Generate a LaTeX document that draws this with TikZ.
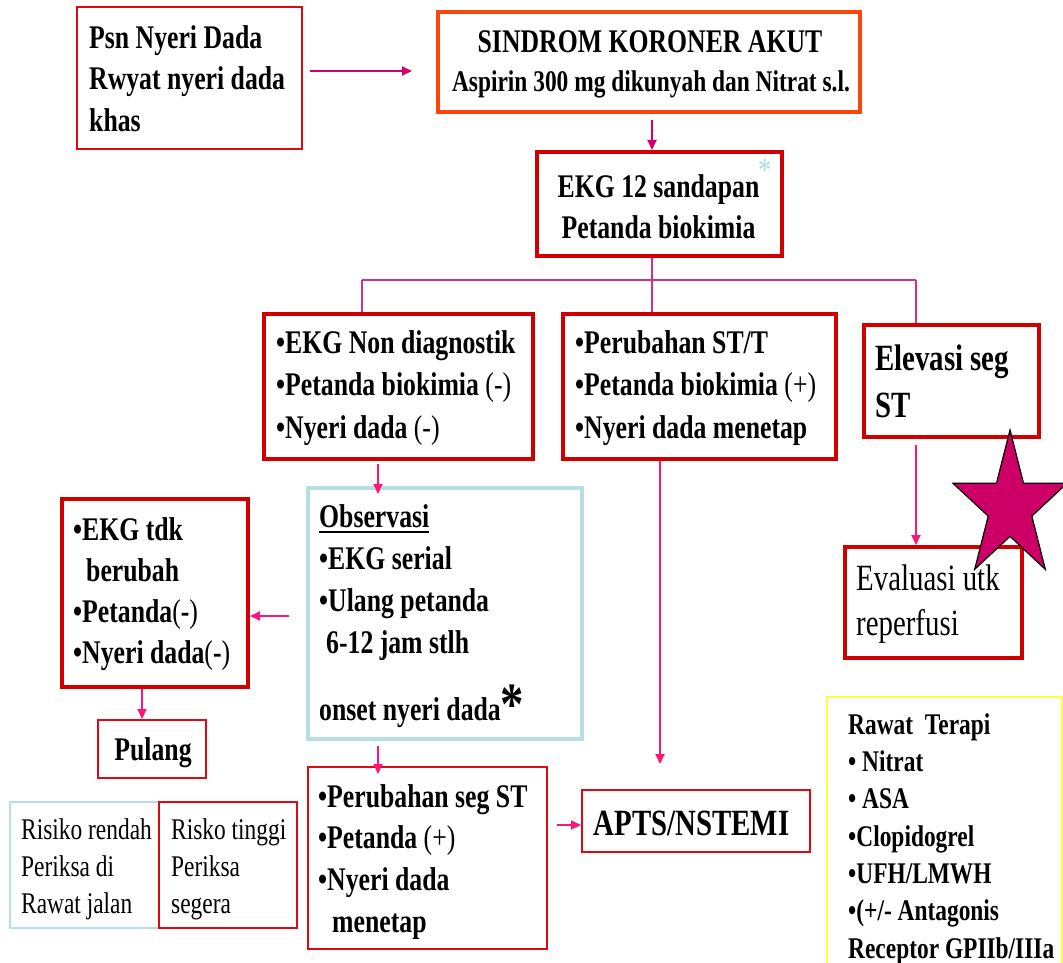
\documentclass[tikz,border=0pt]{standalone}
\usepackage{fontspec}
\setmainfont{Liberation Serif}[FakeStretch=0.78]
\usetikzlibrary{arrows.meta}
\definecolor{boxred}{RGB}{208,0,0}
\definecolor{thinred}{RGB}{220,10,20}
\definecolor{sindorange}{RGB}{255,70,10}
\definecolor{lblue}{RGB}{183,223,227}
\definecolor{ylw}{RGB}{255,255,60}
\definecolor{arrowpink}{RGB}{255,20,120}
\definecolor{magline}{RGB}{210,0,110}
\definecolor{branchc}{RGB}{204,51,136}
\definecolor{starfill}{RGB}{204,0,102}
\definecolor{astblue}{RGB}{170,220,225}
\newcommand{\setfs}[2]{\fontsize{#1}{#2}\selectfont}
\newlength{\ulwd}
\newcommand{\ulx}[1]{\settowidth{\ulwd}{#1}\rlap{\rule[-6pt]{\ulwd}{2.7pt}}#1}
\begin{document}
\begin{tikzpicture}[x=1pt,y=-1pt,
  thickred/.style={draw=boxred, line width=4pt, inner sep=0pt, fill=none},
  thinred/.style={draw=thinred, line width=2pt, inner sep=0pt},
  txt/.style={inner sep=0pt, anchor=north west, align=left},
  arr/.style={draw=arrowpink, line width=1.8pt, -{Triangle[length=10pt,width=9pt]}},
  arrm/.style={draw=magline, line width=1.8pt, -{Triangle[length=10pt,width=9pt]}},
  brl/.style={draw=branchc, line width=1.8pt},
]
\fill[white] (0,0) rectangle (1063,963);
\useasboundingbox (0,0) rectangle (1063,963);

% ---------- boxes ----------
\node[thinred, minimum width=225pt, minimum height=142pt] (psn) at (189.5,78) {};
\node[draw=sindorange, line width=4pt, inner sep=0pt, minimum width=422pt, minimum height=100pt] (sind) at (649,62) {};
\node[thickred, minimum width=245pt, minimum height=104pt] (ekg) at (659.5,204) {};
\node[thickred, minimum width=269pt, minimum height=145pt] (nd) at (398.5,386.5) {};
\node[thickred, minimum width=273pt, minimum height=145pt] (pst) at (699.5,386.5) {};
\node[thickred, minimum width=175pt, minimum height=112pt] (elev) at (951.5,381) {};
\node[thickred, minimum width=177pt, minimum height=111pt] (eval) at (933.5,602.5) {};
\node[draw=lblue, line width=4pt, inner sep=0pt, minimum width=274pt, minimum height=251pt] (obs) at (445,613.5) {};
\node[thickred, minimum width=186pt, minimum height=188pt] (tdk) at (155,593) {};
\node[thinred, minimum width=108pt, minimum height=58pt] (pul) at (152,749) {};
\node[draw=lblue, line width=2pt, inner sep=0pt, minimum width=149pt, minimum height=126pt] (rr) at (84.5,865) {};
\node[thinred, minimum width=138pt, minimum height=126pt] (rt) at (228,865) {};
\node[thinred, minimum width=239pt, minimum height=182pt] (seg) at (427.5,858) {};
\node[thinred, minimum width=228pt, minimum height=62pt] (apts) at (696,821) {};
\node[draw=ylw, line width=2pt, inner sep=0pt, minimum width=235pt, minimum height=278pt] (terapi) at (944.5,836) {};

% ---------- texts ----------
\node[txt, font=\bfseries\setfs{33}{41.5}] (psnt) at (89,19) {\strut Psn Nyeri Dada\\\strut Rwyat nyeri dada\\\strut khas};
\node[inner sep=0pt, anchor=base, font=\bfseries\setfs{33}{40}] (sindt1) at (650,53) {SINDROM KORONER AKUT};
\node[inner sep=0pt, anchor=base, font=\bfseries\setfs{30}{36}] (sindt2) at (651,92) {Aspirin 300 mg dikunyah dan Nitrat s.l.};
\node[inner sep=0pt, anchor=north, align=center, font=\bfseries\setfs{33}{41}] (ekgt) at (658.5,168.3) {\strut EKG 12 sandapan\\\strut Petanda biokimia};
\node[inner sep=0pt, anchor=base west, text=astblue, font=\setfs{34}{40}] (ekgast) at (758,182) {*};
\node[txt, font=\bfseries\setfs{33}{42.5}] (ndt) at (276,323.3) {\strut •EKG Non diagnostik\\\strut •Petanda biokimia {\mdseries (-)}\\\strut •Nyeri dada {\mdseries (-)}};
\node[txt, font=\bfseries\setfs{33}{42.5}] (pstt) at (575,323.3) {\strut •Perubahan ST/T\\\strut •Petanda biokimia {\mdseries (+)}\\\strut •Nyeri dada menetap};
\node[txt, font=\bfseries\setfs{37}{47}] (elevt) at (875,337.1) {\strut Elevasi seg\\\strut ST};
\node[txt, font=\setfs{37}{45}] (evalt) at (856,558.5) {\strut Evaluasi utk\\\strut reperfusi};
\node[txt, font=\bfseries\setfs{33}{42}] (obst) at (319,497.6) {\strut\ulx{Observasi}\\\strut •EKG serial\\\strut •Ulang petanda\\\strut\hspace*{7pt}6-12 jam stlh\\[18pt]\strut onset nyeri dada\raisebox{-4pt}{\setfs{60}{60}*}};
\node[txt, font=\bfseries\setfs{33}{41}] (tdkt) at (73,511.3) {\strut •EKG tdk\\\strut\hspace*{13pt}berubah\\\strut •Petanda{\mdseries (}-{\mdseries )}\\\strut •Nyeri dada{\mdseries (}-{\mdseries )}};
\node[inner sep=0pt, anchor=base, font=\bfseries\setfs{33}{40}] (pult) at (153,760) {Pulang};
\node[txt, font=\setfs{30}{37}] (rrt) at (21,813.1) {\strut Risiko rendah\\\strut Periksa di\\\strut Rawat jalan};
\node[txt, font=\setfs{30}{37}] (rtt) at (171,813.1) {\strut Risko tinggi\\\strut Periksa\\\strut segera};
\node[txt, font=\bfseries\setfs{33}{41.7}] (segt) at (318,777.8) {\strut •Perubahan seg ST\\\strut •Petanda {\mdseries (+)}\\\strut •Nyeri dada\\\strut\hspace*{14pt}menetap};
\node[inner sep=0pt, anchor=base, font=\bfseries\setfs{37}{44}] (aptst) at (691.5,835) {APTS/NSTEMI};
\node[txt, font=\bfseries\setfs{30}{37.3}] (terapit) at (848,708) {\strut Rawat\ \ Terapi\\\strut • Nitrat\\\strut • ASA\\\strut •Clopidogrel\\\strut •UFH/LMWH\\\strut •(+/- Antagonis\\\strut Receptor GPIIb/IIIa};

% ---------- connectors ----------
\draw[arrm, shorten <=7pt, shorten >=24pt] ([yshift=7pt]psn.east) -- ([yshift=7pt]psn.east -| sind.west);
\draw[arrm, shorten <=6pt] ([xshift=3pt]sind.south) -- ([xshift=3pt]sind.south |- ekg.north);

\coordinate (bM) at ([xshift=-7.5pt]ekg.south |- 0,280);
\coordinate (bL) at (362,280);
\coordinate (bR) at (916,280);
\draw[brl] ([xshift=-7.5pt]ekg.south) -- (bM);
\draw[brl] (bL) -- (bR);
\draw[brl] (bL) -- (bL |- nd.north);
\draw[brl] (bM) -- (bM |- pst.north);
\draw[brl] (bR) -- (bR |- elev.north);

\draw[arr, shorten <=3pt, shorten >=-8pt] ([xshift=-20.5pt]nd.south) -- ([xshift=-20.5pt]nd.south |- obs.north);
\draw[arr, shorten <=17pt] ([yshift=-2.5pt]obs.west) -- ([yshift=-2.5pt]obs.west -| tdk.east);
\draw[arr] ([xshift=-13pt]tdk.south) -- ([xshift=-13pt]tdk.south |- pul.north);
\draw[arr, shorten <=5pt, shorten >=-8pt] ([xshift=-67pt]obs.south) -- ([xshift=-67pt]obs.south |- seg.north);
\draw[arr, shorten <=9pt] ([yshift=-4pt]apts.west -| seg.east) -- ([yshift=-4pt]apts.west);
\draw[arr, shorten >=25pt] ([xshift=-39.5pt]pst.south) -- ([xshift=-39.5pt]pst.south |- apts.north);
\draw[arr, shorten <=6pt] ([xshift=-35.5pt]elev.south) -- ([xshift=-35.5pt]elev.south |- eval.north);

% ---------- star ----------
\filldraw[fill=starfill, draw=black, line width=1.2pt, line join=miter]
  (1010,430) -- (1023.5,483.2) -- (1067.1,483.2) -- (1031.8,516.1) -- (1045.3,569.3)
  -- (1010,536.4) -- (974.7,569.3) -- (988.2,516.1) -- (952.9,483.2) -- (996.5,483.2) -- cycle;
\end{tikzpicture}
\end{document}
